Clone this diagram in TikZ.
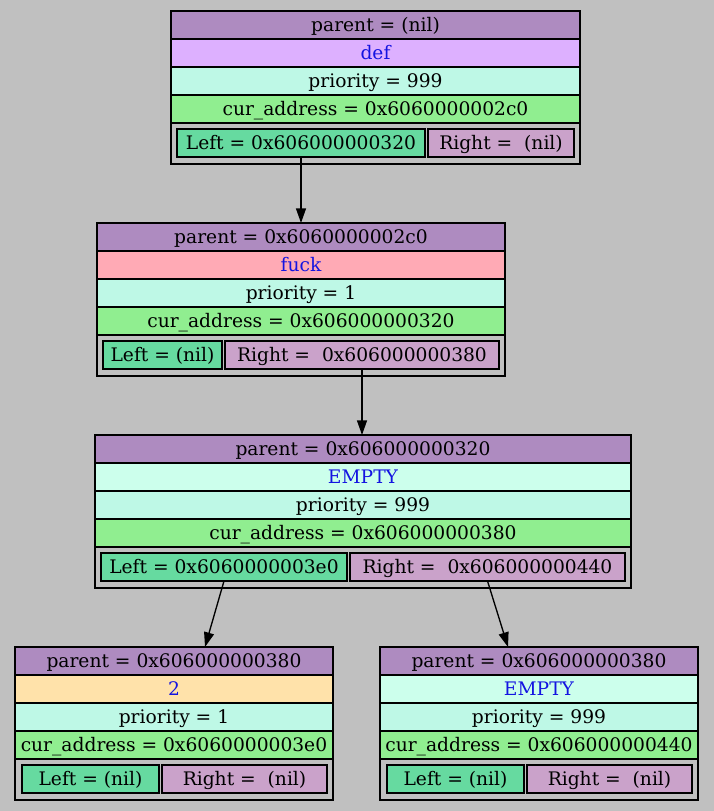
\documentclass[tikz,border=0pt]{standalone}
\usepackage{fontspec}
\setmainfont{DejaVu Serif}
\usetikzlibrary{positioning,arrows.meta}

\definecolor{bgc}{RGB}{192,192,192}
\definecolor{parentc}{RGB}{174,139,192}
\definecolor{defc}{RGB}{221,176,255}
\definecolor{fuckc}{RGB}{255,170,181}
\definecolor{twoc}{RGB}{255,226,170}
\definecolor{emptyc}{RGB}{204,255,236}
\definecolor{prioc}{RGB}{190,248,230}
\definecolor{addrc}{RGB}{144,238,144}
\definecolor{leftc}{RGB}{102,218,160}
\definecolor{rightc}{RGB}{202,162,202}
\definecolor{valc}{RGB}{20,20,225}

\newcommand\pxu{0.75pt}

\begin{document}
\begin{tikzpicture}[x=\pxu, y=-\pxu,
        rowbox/.style={draw, line width=1pt, inner sep=0pt, outer sep=0pt, minimum height=21pt,
            font=\fontsize{14}{16}\selectfont, text height=10.5pt, text depth=1pt},
        valbox/.style={rowbox, text=valc},
        linkrow/.style={draw, line width=1pt, inner sep=0pt, outer sep=0pt, minimum height=30.75pt},
        leftbox/.style={rowbox, fill=leftc},
        rightbox/.style={rowbox, fill=rightc},
        edge/.style={line width=1pt, -{Triangle[length=11pt, width=7.5pt]}}
    ]

    \useasboundingbox (0,0) rectangle (714,811);
    \fill[bgc] (0,0) rectangle (714,811);

    % root
    \begin{scope}[nodes={minimum width=409*\pxu}]
        \node[rowbox, fill=parentc, anchor=north] (r1par) at (375.5,11) {parent = (nil)};
        \node[valbox, fill=defc, below=0pt of r1par] (r1val) {def};
        \node[rowbox, fill=prioc, below=0pt of r1val] (r1pri) {priority = 999};
        \node[rowbox, fill=addrc, below=0pt of r1pri] (r1adr) {cur\_address = 0x6060000002c0};
        \node[linkrow, below=0pt of r1adr] (r1lnk) {};
        \node[leftbox, minimum width=248*\pxu, below right=4.5pt and 4.5pt of r1lnk.north west] (r1left) {Left = 0x606000000320};
        \node[rightbox, minimum width=146*\pxu, right=2.25pt of r1left] (r1right) {Right = \ (nil)};
    \end{scope}

    \begin{scope}[nodes={minimum width=408*\pxu}]
        \node[rowbox, fill=parentc, anchor=north] (r2par) at (301,223) {parent = 0x6060000002c0};
        \node[valbox, fill=fuckc, below=0pt of r2par] (r2val) {fuck};
        \node[rowbox, fill=prioc, below=0pt of r2val] (r2pri) {priority = 1};
        \node[rowbox, fill=addrc, below=0pt of r2pri] (r2adr) {cur\_address = 0x606000000320};
        \node[linkrow, below=0pt of r2adr] (r2lnk) {};
        \node[leftbox, minimum width=119*\pxu, below right=4.5pt and 4.5pt of r2lnk.north west] (r2left) {Left = (nil)};
        \node[rightbox, minimum width=274*\pxu, right=2.25pt of r2left] (r2right) {Right = \ 0x606000000380};
    \end{scope}

    \begin{scope}[nodes={minimum width=536*\pxu}]
        \node[rowbox, fill=parentc, anchor=north] (r3par) at (363,435) {parent = 0x606000000320};
        \node[valbox, fill=emptyc, below=0pt of r3par] (r3val) {EMPTY};
        \node[rowbox, fill=prioc, below=0pt of r3val] (r3pri) {priority = 999};
        \node[rowbox, fill=addrc, below=0pt of r3pri] (r3adr) {cur\_address = 0x606000000380};
        \node[linkrow, below=0pt of r3adr] (r3lnk) {};
        \node[leftbox, minimum width=246*\pxu, below right=4.5pt and 4.5pt of r3lnk.north west] (r3left) {Left = 0x6060000003e0};
        \node[rightbox, minimum width=275*\pxu, right=2.25pt of r3left] (r3right) {Right = \ 0x606000000440};
    \end{scope}

    % leaves
    \begin{scope}[nodes={minimum width=318*\pxu}]
        \node[rowbox, fill=parentc, anchor=north] (r4par) at (174,647) {parent = 0x606000000380};
        \node[valbox, fill=twoc, below=0pt of r4par] (r4val) {2};
        \node[rowbox, fill=prioc, below=0pt of r4val] (r4pri) {priority = 1};
        \node[rowbox, fill=addrc, below=0pt of r4pri] (r4adr) {cur\_address = 0x6060000003e0};
        \node[linkrow, below=0pt of r4adr] (r4lnk) {};
        \node[leftbox, minimum width=137*\pxu, below right=4.5pt and 5.25pt of r4lnk.north west] (r4left) {Left = (nil)};
        \node[rightbox, minimum width=165*\pxu, right=2.25pt of r4left] (r4right) {Right = \ (nil)};
    \end{scope}

    \begin{scope}[nodes={minimum width=318*\pxu}]
        \node[rowbox, fill=parentc, anchor=north] (r5par) at (539,647) {parent = 0x606000000380};
        \node[valbox, fill=emptyc, below=0pt of r5par] (r5val) {EMPTY};
        \node[rowbox, fill=prioc, below=0pt of r5val] (r5pri) {priority = 999};
        \node[rowbox, fill=addrc, below=0pt of r5pri] (r5adr) {cur\_address = 0x606000000440};
        \node[linkrow, below=0pt of r5adr] (r5lnk) {};
        \node[leftbox, minimum width=137*\pxu, below right=4.5pt and 5.25pt of r5lnk.north west] (r5left) {Left = (nil)};
        \node[rightbox, minimum width=165*\pxu, right=2.25pt of r5left] (r5right) {Right = \ (nil)};
    \end{scope}

    \draw[edge] (r1left.south) -- (r2par.north);
    \draw[edge] (r2right.south) -- (r2right.south |- r3par.north);
    \draw[edge] (r3left.south) -- ([xshift=23.25pt]r4par.north);
    \draw[edge] (r3right.south) -- ([xshift=-23.25pt]r5par.north);

\end{tikzpicture}
\end{document}
